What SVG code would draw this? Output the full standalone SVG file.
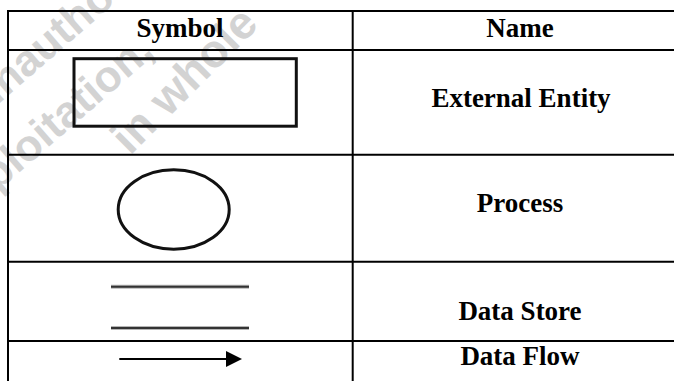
<svg xmlns="http://www.w3.org/2000/svg" width="674" height="381" viewBox="0 0 674 381">
  <style>
    .wm { font-family: "Liberation Sans", Arial, sans-serif; font-weight: bold; fill: #d3d3d3; }
    .grid { stroke: #000; stroke-width: 2; fill: none; }
    .lbl { font-family: "Liberation Serif", "Times New Roman", serif; font-weight: bold; font-size: 27px; fill: #000; text-anchor: middle; }
    .sym { fill: none; stroke: #111; stroke-width: 3; }
    .store-halo { stroke: #b5b5b5; stroke-width: 4; }
    .store { stroke: #333; stroke-width: 2; }
  </style>
  <defs>
    <marker id="arrowhead" markerUnits="userSpaceOnUse" markerWidth="16" markerHeight="16" refX="4" refY="8" orient="auto">
      <path d="M0,0 L16,8 L0,16 Z" fill="#000"/>
    </marker>
  </defs>
  <rect width="674" height="381" fill="#fff"/>

  <g id="watermark">
    <text class="wm" font-size="44" transform="translate(-14,115) rotate(-41)">unauthorized</text>
    <text class="wm" font-size="44" transform="translate(-40,224) rotate(-41)">exploitation,</text>
    <text class="wm" font-size="46" transform="translate(130,156) rotate(-45)">in whole</text>
  </g>

  <g id="table">
    <line class="grid" x1="8" y1="11" x2="674" y2="11"/>
    <line class="grid" x1="8" y1="50" x2="674" y2="50"/>
    <line class="grid" x1="8" y1="154.7" x2="674" y2="154.7"/>
    <line class="grid" x1="8" y1="261.7" x2="674" y2="261.7"/>
    <line class="grid" x1="8" y1="341" x2="674" y2="341"/>
    <line class="grid" x1="8" y1="10" x2="8" y2="381"/>
    <line class="grid" x1="352.7" y1="10" x2="352.7" y2="381"/>
  </g>

  <g id="header">
    <text class="lbl" x="180" y="37">Symbol</text>
    <text class="lbl" x="520" y="37">Name</text>
  </g>

  <g id="external-entity">
    <rect class="sym" x="74" y="58.7" width="222.3" height="67.5"/>
    <text class="lbl" x="521" y="107">External Entity</text>
  </g>

  <g id="process">
    <ellipse class="sym" cx="173.7" cy="209.5" rx="55.5" ry="39.7"/>
    <text class="lbl" x="520" y="212">Process</text>
  </g>

  <g id="data-store">
    <line class="store-halo" x1="111" y1="286.7" x2="249" y2="286.7"/>
    <line class="store-halo" x1="111" y1="328" x2="249" y2="328"/>
    <line class="store" x1="111" y1="286.7" x2="249" y2="286.7"/>
    <line class="store" x1="111" y1="328" x2="249" y2="328"/>
    <text class="lbl" x="520" y="320">Data Store</text>
  </g>

  <g id="data-flow">
    <text class="lbl" x="520" y="365">Data Flow</text>
  </g>

  <g id="connectors">
    <line x1="119.3" y1="359" x2="230" y2="359" stroke="#000" stroke-width="2" marker-end="url(#arrowhead)"/>
  </g>
</svg>
